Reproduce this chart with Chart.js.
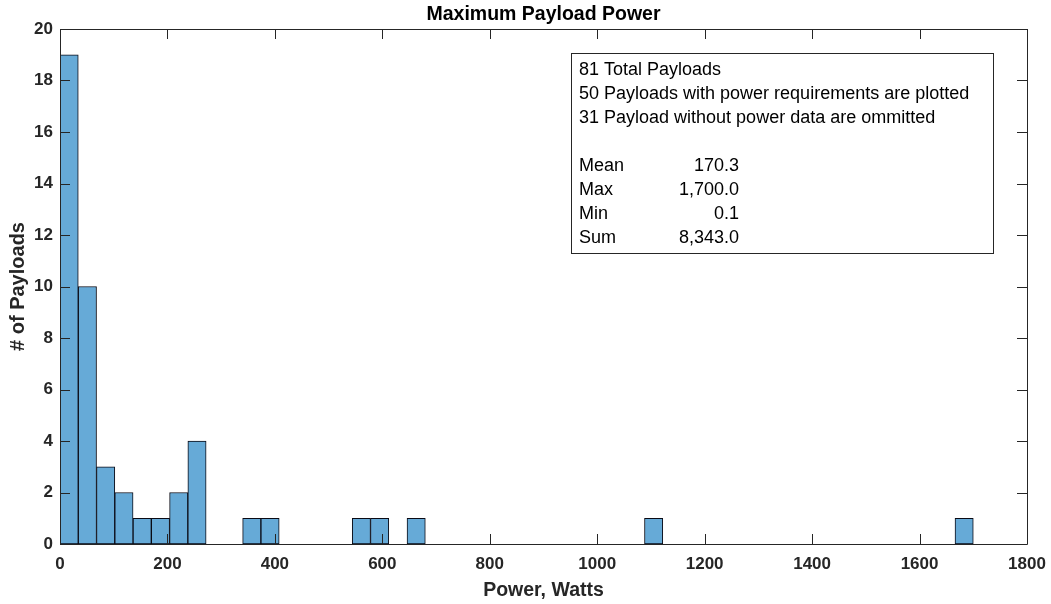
<!DOCTYPE html>
<html>
<head>
<meta charset="utf-8">
<script src="https://cdn.jsdelivr.net/npm/chart.js@4.4.1/dist/chart.umd.min.js"></script>
<style>
  html, body { margin: 0; padding: 0; background: #ffffff; }
  #wrap { width: 1051px; height: 604px; position: relative; }
</style>
</head>
<body>
<div id="wrap"><canvas id="chart"></canvas></div>
<script>
// Histogram of maximum payload power (bins of 34 W from 0 to 1700 W)
const binWidth = 34;
const binStarts = [0, 34, 68, 102, 136, 170, 204, 238, 340, 374, 544, 578, 646, 1088, 1666];
const counts    = [19, 10, 3, 2, 1, 1, 2, 4, 1, 1, 1, 1, 1, 1, 1];

const xTicks = [0, 200, 400, 600, 800, 1000, 1200, 1400, 1600, 1800];
const yTicks = [0, 2, 4, 6, 8, 10, 12, 14, 16, 18, 20];

const titleText = 'Maximum Payload Power';
const xLabel = 'Power, Watts';
const yLabel = '# of Payloads';

const noteLines = [
  '81 Total Payloads',
  '50 Payloads with power requirements are plotted',
  '31 Payload without power data are ommitted'
];
const statNames  = ['Mean', 'Max', 'Min', 'Sum'];
const statValues = ['170.3', '1,700.0', '0.1', '8,343.0'];

const FONT = "'Liberation Sans', Arial, Helvetica, sans-serif";
const AXIS_COLOR = '#262626';

const points = binStarts.map((s, i) => ({ x: s + binWidth / 2, y: counts[i] }));

// Frame around the axes with inward tick marks on all four sides
const boxAxes = {
  id: 'boxAxes',
  afterDatasetsDraw(chart) {
    const { ctx, chartArea: a, scales } = chart;
    const len = 10;
    ctx.save();
    ctx.strokeStyle = AXIS_COLOR;
    ctx.lineWidth = 1;
    ctx.beginPath();
    ctx.rect(Math.round(a.left) + 0.5, Math.round(a.top) + 0.5,
             Math.round(a.right - a.left), Math.round(a.bottom - a.top));
    scales.x.ticks.forEach((t, i) => {
      const px = Math.round(scales.x.getPixelForTick(i)) + 0.5;
      ctx.moveTo(px, a.bottom); ctx.lineTo(px, a.bottom - len);
      ctx.moveTo(px, a.top);    ctx.lineTo(px, a.top + len);
    });
    scales.y.ticks.forEach((t, i) => {
      const py = Math.round(scales.y.getPixelForTick(i)) + 0.5;
      ctx.moveTo(a.left, py);  ctx.lineTo(a.left + len, py);
      ctx.moveTo(a.right, py); ctx.lineTo(a.right - len, py);
    });
    ctx.stroke();
    ctx.restore();
  }
};

// Summary text box in the upper right of the axes
const noteBox = {
  id: 'noteBox',
  afterDraw(chart) {
    const { ctx } = chart;
    const bx = 571, by = 53, bw = 422, bh = 200;
    const textX = 579, valueRight = 739, lineGap = 24, firstY = 70;
    ctx.save();
    ctx.fillStyle = '#ffffff';
    ctx.fillRect(bx, by, bw, bh);
    ctx.strokeStyle = '#262626';
    ctx.lineWidth = 1;
    ctx.strokeRect(bx + 0.5, by + 0.5, bw, bh);
    ctx.font = '18px ' + FONT;
    ctx.fillStyle = '#000000';
    ctx.textBaseline = 'middle';
    ctx.textAlign = 'left';
    noteLines.forEach((s, i) => ctx.fillText(s, textX, firstY + i * lineGap));
    const statY = firstY + (noteLines.length + 1) * lineGap;
    statNames.forEach((s, i) => {
      ctx.textAlign = 'left';
      ctx.fillText(s, textX, statY + i * lineGap);
      ctx.textAlign = 'right';
      ctx.fillText(statValues[i], valueRight, statY + i * lineGap);
    });
    ctx.restore();
  }
};

new Chart(document.getElementById('chart'), {
  type: 'bar',
  data: {
    datasets: [{
      data: points,
      backgroundColor: '#66aad7',
      borderColor: '#0a0a14',
      borderWidth: 1,
      borderSkipped: false,
      barPercentage: 1,
      categoryPercentage: 1
    }]
  },
  options: {
    responsive: true,
    maintainAspectRatio: false,
    animation: false,
    devicePixelRatio: 1,
    layout: { padding: { left: 0, right: 24, top: 0, bottom: 0 } },
    plugins: {
      legend: { display: false },
      tooltip: { enabled: false },
      title: {
        display: true,
        fullSize: false,
        text: titleText,
        color: '#000000',
        font: { family: FONT, size: 19.5, weight: 'bold', lineHeight: 1.2 },
        padding: { top: 3, bottom: 2.6 }
      }
    },
    scales: {
      x: {
        type: 'linear',
        offset: false,
        min: xTicks[0],
        max: xTicks[xTicks.length - 1],
        afterBuildTicks: (s) => { s.ticks = xTicks.map(v => ({ value: v })); },
        afterFit: (s) => { s.height = 60; s.paddingLeft = 0; s.paddingRight = 0; },
        grid: { display: false, drawTicks: false, offset: false },
        border: { display: false },
        ticks: {
          color: AXIS_COLOR,
          padding: 10,
          maxRotation: 0,
          callback: (v) => String(v),
          font: { family: FONT, size: 17, weight: 'bold' }
        },
        title: {
          display: true,
          text: xLabel,
          color: AXIS_COLOR,
          font: { family: FONT, size: 19.5, weight: 'bold', lineHeight: 1.2 },
          padding: { top: 0, bottom: 2 }
        }
      },
      y: {
        min: yTicks[0],
        max: yTicks[yTicks.length - 1],
        afterBuildTicks: (s) => { s.ticks = yTicks.map(v => ({ value: v })); },
        afterFit: (s) => { s.width = 60; },
        grid: { display: false, drawTicks: false },
        border: { display: false },
        ticks: {
          color: AXIS_COLOR,
          padding: 7,
          callback: (v) => String(v),
          font: { family: FONT, size: 17, weight: 'bold' }
        },
        title: {
          display: true,
          text: yLabel,
          color: AXIS_COLOR,
          font: { family: FONT, size: 20, weight: 'bold', lineHeight: 1.2 },
          padding: { top: 6, bottom: 0 }
        }
      }
    }
  },
  plugins: [boxAxes, noteBox]
});
</script>
</body>
</html>
